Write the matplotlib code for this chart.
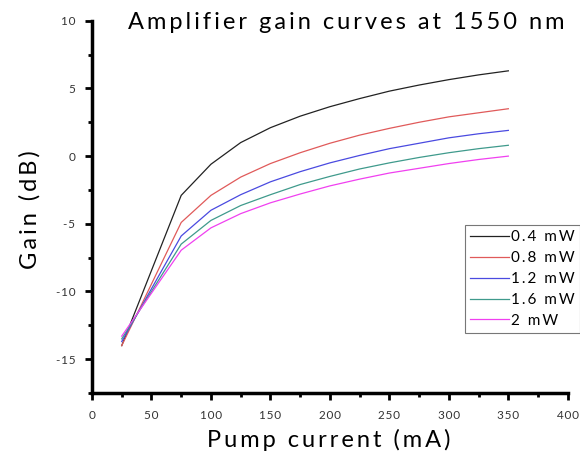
import matplotlib.pyplot as plt
from matplotlib.ticker import MultipleLocator, FuncFormatter

current = [25, 75, 100, 125, 150, 175, 200, 225, 250, 275, 300, 325, 350]
gain_04 = [-14.0, -2.9, -0.6, 1.0, 2.1, 2.95, 3.65, 4.25, 4.8, 5.25, 5.65, 6.0, 6.3]
gain_08 = [-14.0, -4.9, -2.9, -1.55, -0.55, 0.25, 0.95, 1.55, 2.05, 2.5, 2.9, 3.2, 3.5]
gain_12 = [-13.7, -5.9, -4.0, -2.85, -1.9, -1.15, -0.5, 0.05, 0.55, 0.95, 1.35, 1.65, 1.9]
gain_16 = [-13.5, -6.5, -4.75, -3.65, -2.85, -2.1, -1.5, -0.95, -0.5, -0.1, 0.25, 0.55, 0.8]
gain_20 = [-13.3, -6.95, -5.3, -4.25, -3.45, -2.8, -2.2, -1.7, -1.25, -0.9, -0.55, -0.25, 0.0]

labels = ["0.4 mW", "0.8 mW", "1.2 mW", "1.6 mW", "2 mW"]
colors = ["#222222", "#e05a5a", "#4a4ae0", "#3f9a8c", "#f040f0"]

plt.rcParams['font.family'] = ['Lato', 'DejaVu Sans']


def spaced(s, n=1):
    # wide letter spacing like the original
    return ("\u200a" * n).join(s)


fig = plt.figure(figsize=(5.8, 4.61), dpi=100)
ax = fig.add_axes([0.1586, 0.1475, 0.8204, 0.8075])

for g, lab, c in zip([gain_04, gain_08, gain_12, gain_16, gain_20], labels, colors):
    ax.plot(current, g, color=c, lw=0.9, label=spaced(lab, 2))

ax.set_xlim(0, 400)
ax.set_ylim(-17.5, 10)
ax.xaxis.set_major_locator(MultipleLocator(50))
ax.xaxis.set_minor_locator(MultipleLocator(25))
ax.yaxis.set_major_locator(MultipleLocator(5))
ax.yaxis.set_minor_locator(MultipleLocator(2.5))
fmt = FuncFormatter(lambda v, p: spaced("%g" % v))
ax.xaxis.set_major_formatter(fmt)
ax.yaxis.set_major_formatter(fmt)

for s in ['top', 'right']:
    ax.spines[s].set_visible(False)
for s in ['left', 'bottom']:
    ax.spines[s].set_linewidth(2.5)

ax.tick_params(which='major', direction='out', length=5, width=2, labelsize=8.5,
               labelcolor='#333333', pad=7)
ax.tick_params(which='minor', direction='out', length=3, width=2)

fig.text(0.597, 0.952, spaced("Amplifier gain curves at 1550 nm", 2),
         ha='center', va='center', fontsize=17)
fig.text(0.052, 0.545, spaced("Gain (dB)", 2), rotation=90, ha='center', va='center', fontsize=17)
fig.text(0.566, 0.045, spaced("Pump current (mA)", 2), ha='center', va='center', fontsize=17)

leg = ax.legend(loc='upper left', bbox_to_anchor=(465 / 580, 1 - 225 / 461),
                bbox_transform=fig.transFigure, fontsize=11, frameon=True,
                fancybox=False, handlelength=2.5, handletextpad=0.15,
                labelspacing=0.45, borderpad=0.35, borderaxespad=0)
leg.get_frame().set_edgecolor('#555555')
leg.get_frame().set_linewidth(0.8)

fig.savefig("out.png", dpi=100)
